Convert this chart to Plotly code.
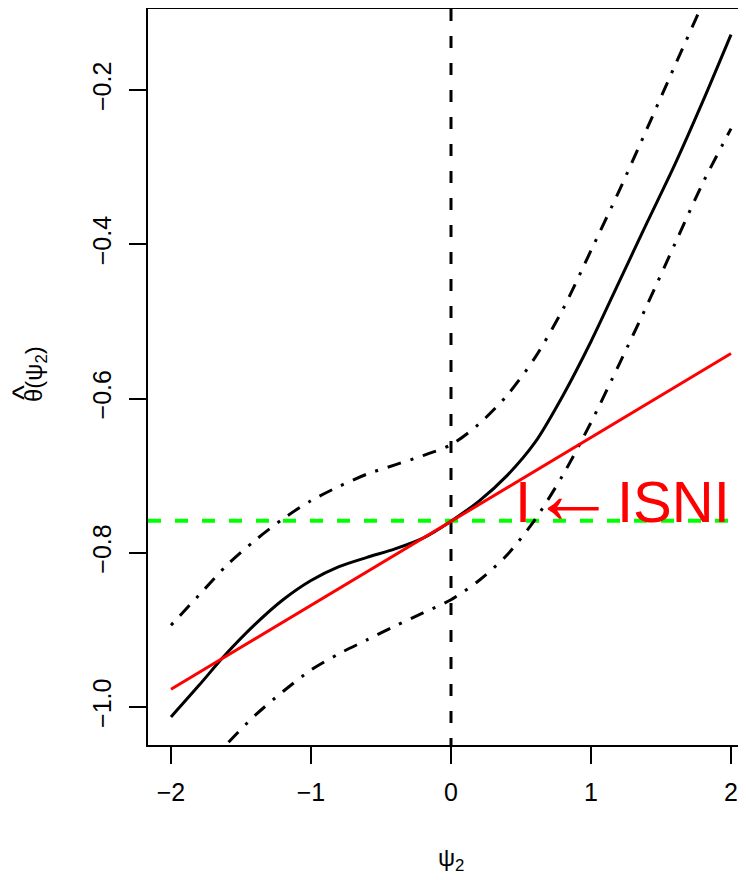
import plotly.graph_objects as go

# ---- data ----
fit_x = [-2.0, -1.8, -1.62, -1.4, -1.2, -1.0, -0.8, -0.6, -0.4, -0.2, 0.0,
         0.2, 0.4, 0.6, 0.8, 1.0, 1.2, 1.4, 1.6, 1.8, 2.0]
fit_y = [-1.013, -0.972, -0.934, -0.893, -0.861, -0.836, -0.818, -0.806, -0.795, -0.781, -0.759,
         -0.733, -0.700, -0.657, -0.596, -0.526, -0.449, -0.372, -0.296, -0.214, -0.128]

upper_x = [-2.0, -1.8, -1.6, -1.4, -1.2, -1.0, -0.8, -0.6, -0.4, -0.2, 0.0,
           0.2, 0.4, 0.6, 0.8, 1.0, 1.2, 1.4, 1.6, 1.8, 2.0]
upper_y = [-0.894, -0.855, -0.816, -0.784, -0.756, -0.7325, -0.714, -0.698, -0.686, -0.674, -0.660,
           -0.633, -0.596, -0.547, -0.484, -0.408, -0.331, -0.250, -0.168, -0.087, -0.005]

lower_x = [-2.0, -1.8, -1.6, -1.4, -1.2, -1.0, -0.8, -0.6, -0.4, -0.2, 0.0,
           0.2, 0.4, 0.6, 0.8, 1.0, 1.2, 1.4, 1.6, 1.8, 2.0]
lower_y = [-1.13, -1.09, -1.048, -1.011, -0.980, -0.952, -0.931, -0.913, -0.895, -0.878, -0.861,
           -0.836, -0.803, -0.757, -0.699, -0.631, -0.556, -0.479, -0.399, -0.320, -0.250]

tangent_x = [-2.0, 2.0]
tangent_y = [-0.977, -0.5416]

ref_level = -0.7584
psi_zero = 0.0

x_ticks = [-2, -1, 0, 1, 2]
x_ticktext = ["\u22122", "\u22121", "0", "1", "2"]
y_ticks = [-1.0, -0.8, -0.6, -0.4, -0.2]
y_ticktext = ["\u22121.0", "\u22120.8", "\u22120.6", "\u22120.4", "\u22120.2"]

x_range = [-2.1643, 2.1071]
y_range = [-1.04935, -0.09481]

FONT = "Liberation Sans, Arial, sans-serif"

# figure geometry (figure px)
W, H = 738, 864
ML, MR, MT, MB = 140, 0, 1, 127
PW, PH = W - ML - MR, H - MT - MB


def px(fx):
    return (fx - ML) / PW


def py(fy):
    return (H - MB - fy) / PH


fig = go.Figure()

fig.add_trace(go.Scatter(x=[psi_zero, psi_zero], y=[y_range[1], y_range[0]], mode="lines",
                         line=dict(color="black", width=3, dash="12px,15px"), hoverinfo="skip"))
fig.add_trace(go.Scatter(x=[x_range[0], x_range[1]], y=[ref_level, ref_level], mode="lines",
                         line=dict(color="#00FF00", width=4, dash="13px,14px"), hoverinfo="skip"))
dd = "3px,10px,14px,10px"
fig.add_trace(go.Scatter(x=upper_x, y=upper_y, mode="lines", line_shape="spline",
                         line=dict(color="black", width=3, dash=dd, smoothing=0.8), hoverinfo="skip"))
fig.add_trace(go.Scatter(x=lower_x, y=lower_y, mode="lines", line_shape="spline",
                         line=dict(color="black", width=3, dash=dd, smoothing=0.8), hoverinfo="skip"))
fig.add_trace(go.Scatter(x=fit_x, y=fit_y, mode="lines", line_shape="spline",
                         line=dict(color="black", width=3, smoothing=0.8), hoverinfo="skip"))
fig.add_trace(go.Scatter(x=tangent_x, y=tangent_y, mode="lines",
                         line=dict(color="#FF0000", width=3), hoverinfo="skip"))

red = dict(family=FONT, size=58, color="#FF0000")
fig.add_annotation(x=0.514, y=-0.7338, text="I", showarrow=False, font=red,
                   xanchor="center", yanchor="middle")
fig.add_annotation(x=0.868, y=-0.7227, text="\u2190", showarrow=False,
                   font=dict(family=FONT, size=86, color="#FF0000"),
                   xanchor="center", yanchor="middle")
fig.add_annotation(x=1.589, y=-0.7338, text="ISNI", showarrow=False, font=red,
                   xanchor="center", yanchor="middle")

# axis titles
fig.add_annotation(xref="paper", yref="paper", x=px(443), y=py(851),
                   text="\u03c8<sub>2</sub>", showarrow=False,
                   font=dict(family=FONT, size=24, color="black"), xanchor="center", yanchor="middle")
fig.add_annotation(xref="paper", yref="paper", x=px(27), y=py(366),
                   text="\u03b8(\u03c8<sub>2</sub>)", showarrow=False, textangle=-90,
                   font=dict(family=FONT, size=24, color="black"), xanchor="center", yanchor="middle")
fig.add_annotation(xref="paper", yref="paper", x=px(15), y=py(385),
                   text="^", showarrow=False, textangle=-90,
                   font=dict(family=FONT, size=32, color="black"), xanchor="center", yanchor="middle")

fig.update_layout(
    width=W, height=H,
    margin=dict(l=ML, r=MR, t=MT, b=MB),
    paper_bgcolor="white", plot_bgcolor="white",
    showlegend=False,
    font=dict(family=FONT, color="black"),
)
fig.update_xaxes(range=x_range, tickvals=x_ticks, ticktext=x_ticktext, showgrid=False, zeroline=False,
                 showline=True, linecolor="black", linewidth=2, mirror=True,
                 ticks="outside", ticklen=17, tickwidth=2, tickcolor="black", ticklabelstandoff=7,
                 tickfont=dict(family=FONT, size=25, color="black"))
fig.update_yaxes(range=y_range, tickvals=y_ticks, ticktext=y_ticktext, showgrid=False, zeroline=False,
                 showline=True, linecolor="black", linewidth=2, mirror=False,
                 ticks="outside", ticklen=17, tickwidth=2, tickcolor="black", tickangle=-90,
                 ticklabelstandoff=8,
                 tickfont=dict(family=FONT, size=25, color="black"))

fig.write_html("out.html")
